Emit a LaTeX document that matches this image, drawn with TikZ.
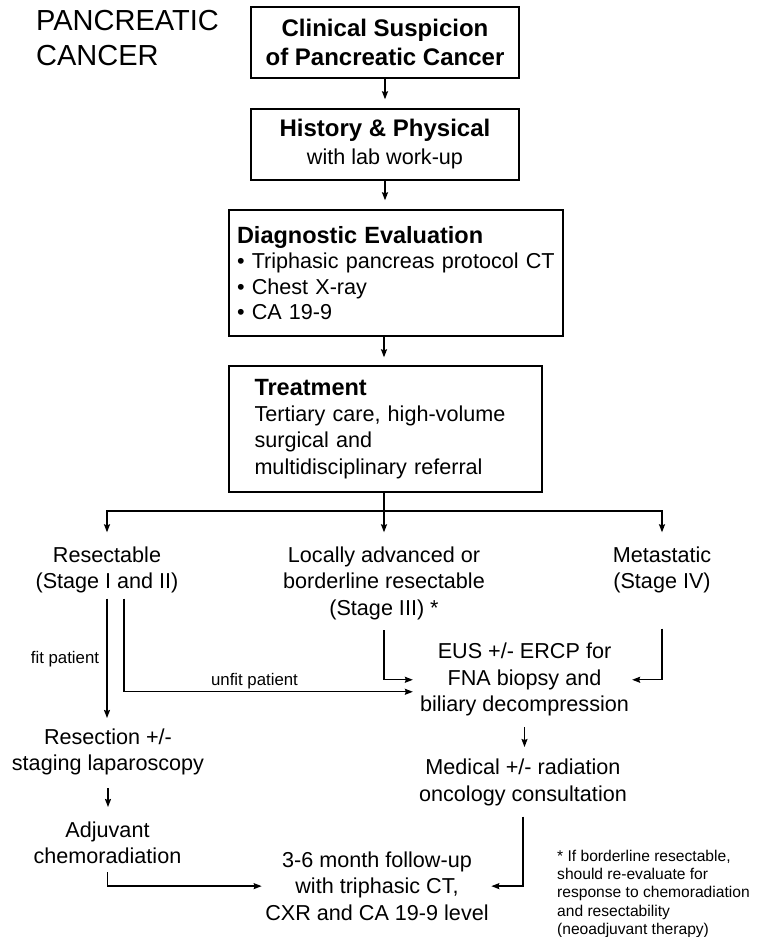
\documentclass[tikz,border=0pt]{standalone}
\usepackage{fontspec}
\setmainfont{Liberation Sans}
\usetikzlibrary{arrows.meta}
\begin{document}
\begin{tikzpicture}[x=1pt,y=-1pt,
  box/.style={draw, line width=1.4pt, inner sep=0pt},
  lbl/.style={inner sep=0pt, align=center, anchor=north, font=\fontsize{21.6}{26.5}\selectfont},
  small/.style={inner sep=0pt, anchor=north, font=\fontsize{16.8}{20}\selectfont},
  arr/.style={line width=1.3pt, -{Stealth[length=8pt,width=6pt,inset=1pt]}},
  link/.style={line width=1.3pt}]
\useasboundingbox (0,0) rectangle (760,937);

% title
\node[inner sep=0pt, anchor=north west, align=left, font=\fontsize{29}{35}\selectfont] (title) at (36,10.5) {PANCREATIC\\CANCER};

% boxed steps
\node[box, minimum width=268pt, minimum height=71pt, align=center,
      font=\fontsize{24}{29}\selectfont\bfseries] (b1) at (385,42.5)
      {Clinical Suspicion\\of Pancreatic Cancer};
\node[box, minimum width=268pt, minimum height=71pt, align=center,
      font=\fontsize{24}{28}\selectfont] (b2) at (385,144.5)
      {\bfseries History \& Physical\\\fontsize{21.6}{28}\selectfont with lab work-up};
\node[box, minimum width=334pt, minimum height=126pt, text width=318pt, align=left,
      font=\fontsize{21.6}{25.5}\selectfont] (b3) at (396,273)
      {{\fontsize{23.5}{25.5}\selectfont\bfseries Diagnostic Evaluation}\\
       • Triphasic pancreas protocol CT\\
       • Chest X-ray\\
       • CA 19-9};
\node[box, minimum width=313pt, minimum height=126pt, text width=262pt, align=left,
      font=\fontsize{21.6}{26.3}\selectfont] (b4) at (385.5,429)
      {{\fontsize{23.5}{26.3}\selectfont\bfseries Treatment}\\
       Tertiary care, high-volume\\
       surgical and\\
       multidisciplinary referral};

% stage groups
\node[lbl] (res) at (107,546.3) {Resectable\\(Stage I and II)};
\node[lbl] (loc) at (384,546.3) {Locally advanced or\\borderline resectable\\(Stage III) *};
\node[lbl] (met) at (662,546.3) {Metastatic\\(Stage IV)};

% management
\node[lbl] (eus) at (524.5,643) {EUS +/- ERCP for\\FNA biopsy and\\biliary decompression};
\node[lbl] (med) at (523,759) {Medical +/- radiation\\oncology consultation};
\node[lbl] (rsc) at (108,728.5) {Resection +/-\\staging laparoscopy};
\node[lbl] (adj) at (107.5,821.5) {Adjuvant\\chemoradiation};
\node[lbl] (fu) at (377,851.5) {3-6 month follow-up\\with triphasic CT,\\CXR and CA 19-9 level};

% branch labels
\node[small] (fit) at (65,651) {fit patient};
\node[small] (unfit) at (254.5,673) {unfit patient};

% footnote
\node[inner sep=0pt, anchor=north west, align=left, font=\fontsize{15.6}{18.2}\selectfont] (note) at (557,850)
  {* If borderline resectable,\\should re-evaluate for\\response to chemoradiation\\and resectability\\(neoadjuvant therapy)};

% main column
\draw[arr, shorten >=9pt] (b1) -- (b2);
\draw[arr, shorten >=9pt] (b2.south) -- (b2.south |- b3.north);
\draw[arr, shorten >=8pt] (b3.south -| loc) -- (b4.north -| loc);

% three-way split
\coordinate (fork) at (384,511);
\draw[arr, shorten >=14pt] (b4.south -| loc) -- (loc.north);
\draw[arr, shorten >=14pt] (fork) -| (res.north);
\draw[arr, shorten >=14pt] (fork) -| (met.north);

% resectable branch
\draw[arr, shorten <=5.4pt, shorten >=10.5pt] (res.south) -- (res.south |- rsc.north);
\draw[arr, shorten <=5.4pt, shorten >=7pt] ([xshift=17pt]res.south) |- ([yshift=-12pt]eus.west);
\draw[arr, shorten <=12.5pt, shorten >=14.5pt] (rsc.south) -- (rsc.south |- adj.north);
\draw[arr, shorten <=8pt, shorten >=3.5pt] (adj.south) |- (fu.west);

% advanced and metastatic branches
\draw[arr, shorten <=10.4pt, shorten >=7pt] (loc.south) |- (eus.west);
\draw[arr, shorten <=35.4pt, shorten >=3pt] (met.south) |- (eus.east);
\draw[arr, shorten <=10.5pt, shorten >=12pt] (eus.south) -- (eus.south |- med.north);
\draw[arr, shorten <=10.5pt, shorten >=2.5pt] (med.south) |- (fu.east);
\end{tikzpicture}
\end{document}
